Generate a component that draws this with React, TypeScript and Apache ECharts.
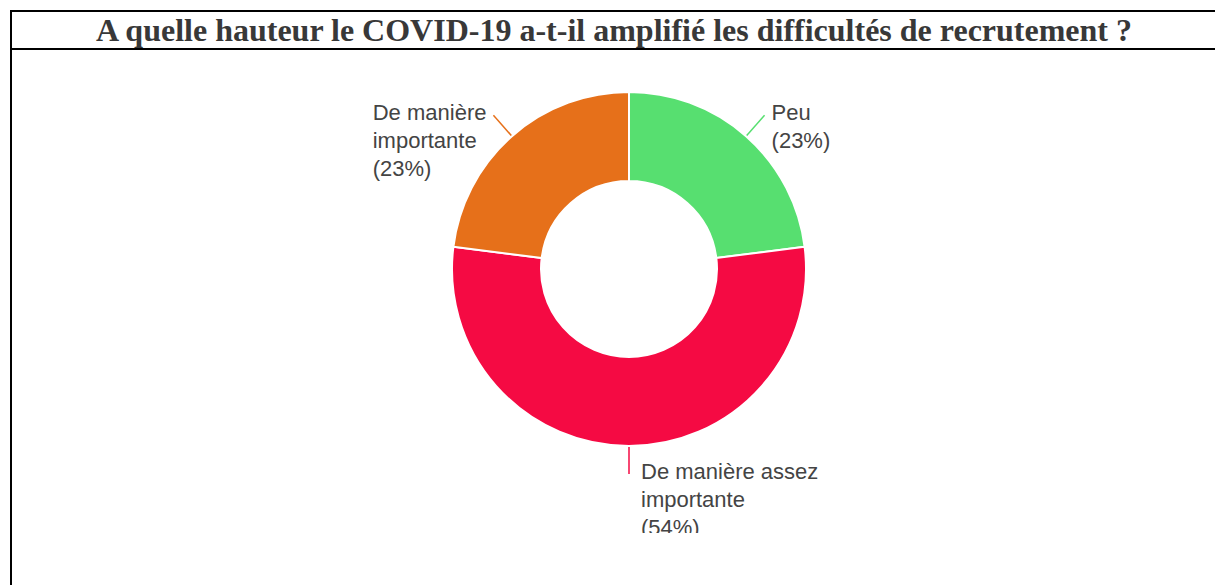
import React, { useEffect, useRef } from "react";
import * as echarts from "echarts";

const TITLE = "A quelle hauteur le COVID-19 a-t-il amplifié les difficultés de recrutement ?";
const categories = ["Peu", "De manière assez importante", "De manière importante"];
const labelNames = ["Peu", "De manière assez\nimportante", "De manière\nimportante"];
const values = [23, 54, 23];
const colors = ["#57df70", "#f50a43", "#e6701a"];
const labelPadTop = [22, 50, 50];
const labelPadLeft = [0, 5, 0];

export default function App() {
  const ref = useRef<HTMLDivElement>(null);
  useEffect(() => {
    if (!ref.current) return;
    const chart = echarts.init(ref.current, undefined, { renderer: "svg" });
    chart.setOption({
      animation: false,
      graphic: [
        {
          type: "text",
          x: 614,
          y: 30,
          style: {
            text: TITLE,
            align: "center",
            verticalAlign: "middle",
            fontFamily: "Liberation Serif",
            fontWeight: "bold",
            fontSize: 32,
            fill: "#383838",
          },
        },
      ],
      series: [
        {
          type: "pie",
          center: [629, 269],
          radius: [88, 177],
          startAngle: 90,
          clockwise: true,
          avoidLabelOverlap: false,
          percentPrecision: 0,
          itemStyle: { borderColor: "#ffffff", borderWidth: 2 },
          labelLine: { show: true, length: 28, length2: 0, smooth: false, lineStyle: { width: 1.5 } },
          label: {
            show: true,
            position: "outside",
            fontFamily: "Liberation Sans",
            fontSize: 22,
            lineHeight: 28,
            color: "#444444",
            distanceToLabelLine: 7,
          },
          data: categories.map((name, i) => ({
            name,
            value: values[i],
            itemStyle: { color: colors[i] },
            label: {
              padding: [labelPadTop[i], 0, 0, labelPadLeft[i]],
              formatter: (p: any) => `{t|${labelNames[i]}\n(${p.percent}%)}`,
              rich: {
                t: {
                  align: "left",
                  fontFamily: "Liberation Sans",
                  fontSize: 22,
                  lineHeight: 28,
                  color: "#444444",
                },
              },
            },
          })),
        },
      ],
    });
    return () => chart.dispose();
  }, []);

  return (
    <div style={{ position: "fixed", left: 0, top: 0, width: 1215, height: 585, background: "#fff", overflow: "hidden" }}>
      <div style={{ position: "absolute", left: 10, top: 10, width: 1205, height: 2, background: "#000" }} />
      <div style={{ position: "absolute", left: 10, top: 48, width: 1205, height: 2, background: "#000" }} />
      <div style={{ position: "absolute", left: 10, top: 10, width: 2, height: 575, background: "#000" }} />
      <div ref={ref} style={{ position: "absolute", left: 0, top: 0, width: 1215, height: 533, overflow: "hidden" }} />
    </div>
  );
}
